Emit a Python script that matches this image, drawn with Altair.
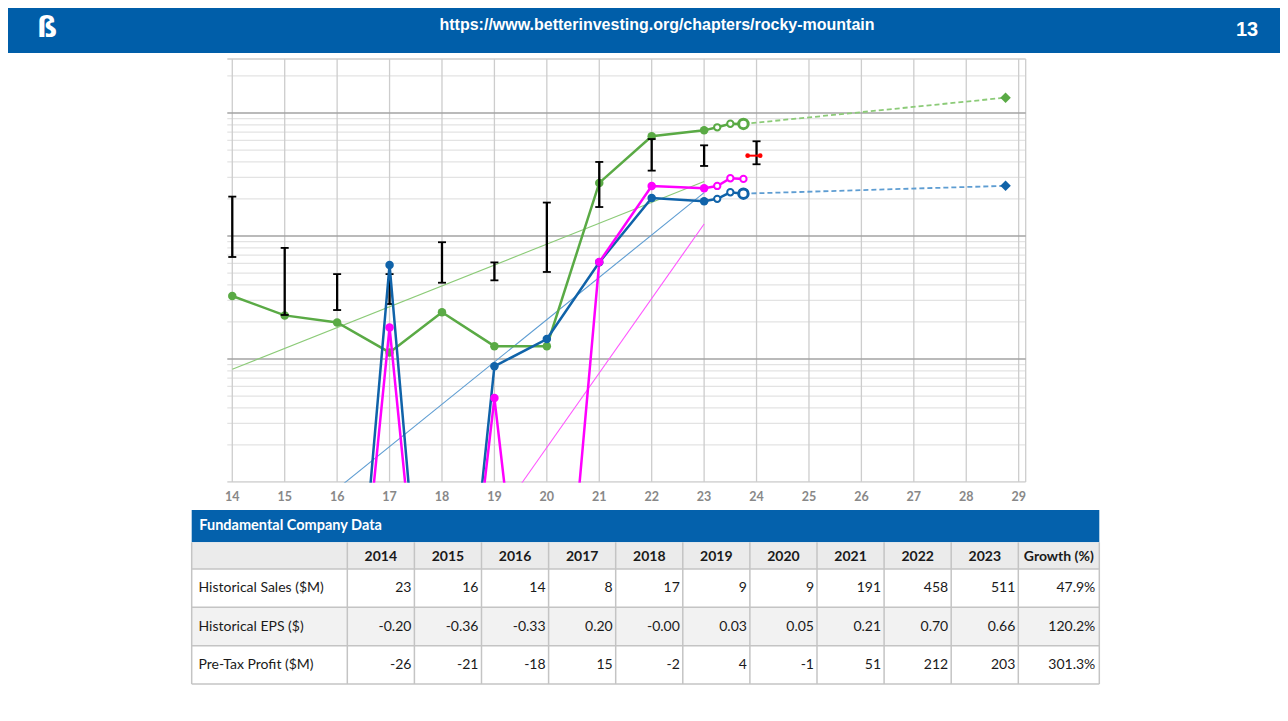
import altair as alt
import pandas as pd

# ---------------- data ----------------
YEARS = [2014, 2015, 2016, 2017, 2018, 2019, 2020, 2021, 2022, 2023]
YEAR_LABELS = ["2014", "2015", "2016", "2017", "2018", "2019", "2020", "2021", "2022", "2023"]
CHART_X = [14, 15, 16, 17, 18, 19, 20, 21, 22, 23]
SALES = [23, 16, 14, 8, 17, 9, 9, 191, 458, 511]
EPS = [-0.20, -0.36, -0.33, 0.20, -0.001, 0.03, 0.05, 0.21, 0.70, 0.66]
PRETAX = [-26, -21, -18, 15, -2, 4, -1, 51, 212, 203]
GROWTH = ["47.9%", "120.2%", "301.3%"]
ROW_NAMES = ["Historical Sales ($M)", "Historical EPS ($)", "Pre-Tax Profit ($M)"]
TABLE_TITLE = "Fundamental Company Data"
GROWTH_HEADER = "Growth (%)"

# trailing quarters, projections, trends
TTM_X = [23.25, 23.5, 23.75]
SALES_TTM = [541, 578, 576]
EPS_TTM = [0.69, 0.78, 0.76]
PRETAX_TTM = [212, 245, 242]
PROJ_X = [23.75, 28.75]
SALES_PROJ = [576, 942]
EPS_PROJ = [0.76, 0.88]
TREND_X = [14, 23]
SALES_TREND = [5.83, 196]
EPS_TREND = [0.00062, 0.774]
PRETAX_TREND = [0.00037, 104]

# yearly price ranges
PRICE_X = [14, 15, 16, 17, 18, 19, 20, 21, 22, 23, 24]
PRICE_HIGH = [20.9, 8.0, 4.9, 4.9, 8.9, 6.1, 18.7, 40.0, 61.4, 54.6, 58.9]
PRICE_LOW = [6.75, 2.28, 2.50, 2.80, 4.17, 4.36, 5.10, 17.2, 34.0, 37.1, 38.3]
CURRENT_X = [23.83, 24.07]
CURRENT_PRICE = 45.0

X_TICKS = [14, 15, 16, 17, 18, 19, 20, 21, 22, 23, 24, 25, 26, 27, 28, 29]
X_LABELS = [str(t) for t in X_TICKS]
GRID_MINOR = [0.2, 0.3, 0.4, 0.5, 0.6, 0.7, 0.8, 0.9, 2, 3, 4, 5, 6, 7, 8, 9,
              20, 30, 40, 50, 60, 70, 80, 90, 200]
GRID_MAJOR = [1, 10, 100]

URL = "https://www.betterinvesting.org/chapters/rocky-mountain"
PAGE_NO = "13"
LOGO = "ß"

# ---------------- layout / style ----------------
W, H = 1272, 705
PX0, PX1 = 13.905, 29.134
PY0, PY1 = 0.1, 274.8
PLOT_TOP, PLOT_BOTTOM = 51, 474
EPS_FLOOR = 2.5e-6
PRETAX_FLOOR = 8.5e-4

GREEN = "#5aaa45"
GREEN_L = "#8ccb78"
BLUE = "#1063a9"
BLUE_L = "#5e9dd2"
MAG = "#ff00ff"
MAG_L = "#ff55ff"
HEAD_BLUE = "#005ea9"
TAB_BLUE = "#0461ac"
LINE_GRAY = "#c4c4c4"

XS = alt.Scale(domain=[PX0, PX1], range=[219.3, 1017.7], nice=False, zero=False)


def logscale(lo, hi):
    return alt.Scale(type="log", domain=[lo, hi], range=[PLOT_BOTTOM, PLOT_TOP], nice=False)


Y_SALES = logscale(0.7075, 1943)
Y_EPS = logscale(0.00344, 9.454)
Y_PRETAX = logscale(0.831, 2283)
Y_PRICE = logscale(PY0, PY1)

COL_S = alt.Scale(type="band", domain=YEAR_LABELS, range=[339.3, 1010.3], paddingInner=0, paddingOuter=0)
ROW_S = alt.Scale(type="band", domain=ROW_NAMES, range=[561, 676], paddingInner=0, paddingOuter=0)

T_L, T_R = 183.7, 1091.3
T_TITLE0, T_TITLE1 = 502, 534.3
T_HEAD1 = 561
T_BOTTOM = 676
GROWTH_L = 1010.3


def xq(f="x"):
    return alt.X(f"{f}:Q", scale=XS, axis=None)


def yq(f, s):
    return alt.Y(f"{f}:Q", scale=s, axis=None)


layers = []

# ---------- grid ----------
layers.append(alt.Chart(pd.DataFrame({"y": GRID_MINOR, "x0": PX0, "x1": PX1}))
              .mark_rule(color="#e3e3e3", strokeWidth=1.3)
              .encode(y=yq("y", Y_PRICE), x=xq("x0"), x2="x1:Q"))
layers.append(alt.Chart(pd.DataFrame({"x": X_TICKS + [PX1], "y0": PY0, "y1": PY1}))
              .mark_rule(color="#cdcdcd", strokeWidth=1.3)
              .encode(x=xq("x"), y=yq("y0", Y_PRICE), y2="y1:Q"))
layers.append(alt.Chart(pd.DataFrame({"y": [PY0, PY1], "x0": PX0, "x1": PX1}))
              .mark_rule(color="#cdcdcd", strokeWidth=1.3)
              .encode(y=yq("y", Y_PRICE), x=xq("x0"), x2="x1:Q"))
layers.append(alt.Chart(pd.DataFrame({"y": GRID_MAJOR, "x0": PX0, "x1": PX1}))
              .mark_rule(color="#a3a3a3", strokeWidth=1.6)
              .encode(y=yq("y", Y_PRICE), x=xq("x0"), x2="x1:Q"))

# ---------- trend lines ----------
for vals, s, c in [(SALES_TREND, Y_SALES, GREEN_L), (EPS_TREND, Y_EPS, BLUE_L), (PRETAX_TREND, Y_PRETAX, MAG_L)]:
    layers.append(alt.Chart(pd.DataFrame({"x": TREND_X, "v": vals}))
                  .mark_line(color=c, strokeWidth=1.1, clip=True)
                  .encode(x=xq(), y=yq("v", s)))

# ---------- sales (green) ----------
layers.append(alt.Chart(pd.DataFrame({"x": PROJ_X, "v": SALES_PROJ}))
              .mark_line(color=GREEN_L, strokeWidth=1.8, strokeDash=[5, 3])
              .encode(x=xq(), y=yq("v", Y_SALES)))
layers.append(alt.Chart(pd.DataFrame({"x": CHART_X + TTM_X, "v": SALES + SALES_TTM}))
              .mark_line(color=GREEN, strokeWidth=2.5)
              .encode(x=xq(), y=yq("v", Y_SALES)))
layers.append(alt.Chart(pd.DataFrame({"x": CHART_X, "v": SALES}))
              .mark_circle(color=GREEN, size=72, opacity=1)
              .encode(x=xq(), y=yq("v", Y_SALES)))
layers.append(alt.Chart(pd.DataFrame({"x": TTM_X[:-1], "v": SALES_TTM[:-1]}))
              .mark_circle(fill="white", stroke=GREEN, strokeWidth=2, size=40, opacity=1)
              .encode(x=xq(), y=yq("v", Y_SALES)))
layers.append(alt.Chart(pd.DataFrame({"x": TTM_X[-1:], "v": SALES_TTM[-1:]}))
              .mark_circle(fill="white", stroke=GREEN, strokeWidth=3, size=90, opacity=1)
              .encode(x=xq(), y=yq("v", Y_SALES)))
layers.append(alt.Chart(pd.DataFrame({"x": PROJ_X[-1:], "v": SALES_PROJ[-1:]}))
              .mark_point(shape="diamond", filled=True, color=GREEN, size=110, opacity=1)
              .encode(x=xq(), y=yq("v", Y_SALES)))

# ---------- price bars ----------
price_df = pd.DataFrame({"x": PRICE_X, "hi": PRICE_HIGH, "lo": PRICE_LOW})
layers.append(alt.Chart(price_df).mark_rule(color="black", strokeWidth=2.3)
              .encode(x=xq(), y=yq("lo", Y_PRICE), y2="hi:Q"))
for f in ["hi", "lo"]:
    layers.append(alt.Chart(price_df).mark_tick(color="black", orient="horizontal", size=8,
                                                thickness=1.8, opacity=1)
                  .encode(x=xq(), y=yq(f, Y_PRICE)))
cur_df = pd.DataFrame({"x": CURRENT_X, "v": CURRENT_PRICE})
layers.append(alt.Chart(cur_df).mark_line(color="red", strokeWidth=2)
              .encode(x=xq(), y=yq("v", Y_PRICE)))
layers.append(alt.Chart(cur_df).mark_circle(color="red", size=22, opacity=1)
              .encode(x=xq(), y=yq("v", Y_PRICE)))

# ---------- EPS (blue) ----------
layers.append(alt.Chart(pd.DataFrame({"x": PROJ_X, "v": EPS_PROJ}))
              .mark_line(color=BLUE_L, strokeWidth=1.8, strokeDash=[5, 3])
              .encode(x=xq(), y=yq("v", Y_EPS)))
layers.append(alt.Chart(pd.DataFrame({"x": CHART_X + TTM_X, "v": EPS + EPS_TTM}))
              .transform_calculate(pv=f"datum.v > 0 ? datum.v : {EPS_FLOOR}")
              .mark_line(color=BLUE, strokeWidth=2.5, clip=True)
              .encode(x=xq(), y=yq("pv", Y_EPS)))

# ---------- pre-tax profit (magenta) ----------
layers.append(alt.Chart(pd.DataFrame({"x": CHART_X + TTM_X, "v": PRETAX + PRETAX_TTM}))
              .transform_calculate(pv=f"datum.v > 0 ? datum.v : {PRETAX_FLOOR}")
              .mark_line(color=MAG, strokeWidth=2.5, clip=True)
              .encode(x=xq(), y=yq("pv", Y_PRETAX)))

for vals, ttm, s, c in [(EPS, EPS_TTM, Y_EPS, BLUE), (PRETAX, PRETAX_TTM, Y_PRETAX, MAG)]:
    layers.append(alt.Chart(pd.DataFrame({"x": CHART_X, "v": vals}))
                  .transform_filter("datum.v > 0")
                  .mark_circle(color=c, size=72, opacity=1)
                  .encode(x=xq(), y=yq("v", s)))
    n = 2 if c == BLUE else 3
    layers.append(alt.Chart(pd.DataFrame({"x": TTM_X[:n], "v": ttm[:n]}))
                  .mark_circle(fill="white", stroke=c, strokeWidth=2, size=40, opacity=1)
                  .encode(x=xq(), y=yq("v", s)))

layers.append(alt.Chart(pd.DataFrame({"x": TTM_X[-1:], "v": EPS_TTM[-1:]}))
              .mark_circle(fill="white", stroke=BLUE, strokeWidth=3, size=90, opacity=1)
              .encode(x=xq(), y=yq("v", Y_EPS)))
layers.append(alt.Chart(pd.DataFrame({"x": PROJ_X[-1:], "v": EPS_PROJ[-1:]}))
              .mark_point(shape="diamond", filled=True, color=BLUE, size=110, opacity=1)
              .encode(x=xq(), y=yq("v", Y_EPS)))

# ---------- mask below the plot area ----------
layers.append(alt.Chart(pd.DataFrame({"a": [0]})).mark_rect(color="white")
              .encode(x=alt.value(205), x2=alt.value(1030), y=alt.value(PLOT_BOTTOM + 0.8), y2=alt.value(H)))

# ---------- x labels ----------
layers.append(alt.Chart(pd.DataFrame({"x": X_TICKS, "t": X_LABELS}))
              .mark_text(font="Lato", fontWeight="bold", fontSize=12.5, color="#888888", baseline="middle")
              .encode(x=xq(), y=alt.value(489), text="t:N"))

# ---------- table ----------
one = pd.DataFrame({"a": [0]})
layers.append(alt.Chart(one).mark_rect(color=TAB_BLUE)
              .encode(x=alt.value(T_L), x2=alt.value(T_R), y=alt.value(T_TITLE0), y2=alt.value(T_TITLE1)))
layers.append(alt.Chart(one).mark_rect(color="#ebebeb")
              .encode(x=alt.value(T_L), x2=alt.value(T_R), y=alt.value(T_TITLE1), y2=alt.value(T_HEAD1)))
rows_df = pd.DataFrame({"row": ROW_NAMES, "g": GROWTH})
layers.append(alt.Chart(rows_df).mark_rect()
              .encode(y=alt.Y("row:N", scale=ROW_S, axis=None),
                      x=alt.value(T_L), x2=alt.value(T_R),
                      color=alt.condition(f"datum.row === '{ROW_NAMES[1]}'",
                                          alt.value("#f2f2f2"), alt.value("#ffffff"))))
# grid lines of the table
layers.append(alt.Chart(rows_df).mark_rule(color=LINE_GRAY, strokeWidth=1.5)
              .encode(y=alt.Y("row:N", scale=ROW_S, axis=None, bandPosition=0),
                      x=alt.value(T_L), x2=alt.value(T_R)))
layers.append(alt.Chart(one).mark_rule(color=LINE_GRAY, strokeWidth=1.5)
              .encode(y=alt.value(T_BOTTOM), x=alt.value(T_L), x2=alt.value(T_R)))
cols_df = pd.DataFrame({"col": YEAR_LABELS})
layers.append(alt.Chart(cols_df).mark_rule(color=LINE_GRAY, strokeWidth=1.5)
              .encode(x=alt.X("col:N", scale=COL_S, axis=None, bandPosition=0),
                      y=alt.value(T_TITLE1), y2=alt.value(T_BOTTOM)))
for xv in [T_L, GROWTH_L, T_R]:
    layers.append(alt.Chart(one).mark_rule(color=LINE_GRAY, strokeWidth=1.5)
                  .encode(x=alt.value(xv), y=alt.value(T_TITLE1), y2=alt.value(T_BOTTOM)))

# table texts
layers.append(alt.Chart(pd.DataFrame({"t": [TABLE_TITLE]}))
              .mark_text(font="Lato", fontWeight="bold", fontSize=14.5, color="white", align="left", baseline="middle")
              .encode(x=alt.value(191.3), y=alt.value(518), text="t:N"))
layers.append(alt.Chart(cols_df)
              .mark_text(font="Lato", fontWeight="bold", fontSize=14, color="#1a1a1a", baseline="middle")
              .encode(x=alt.X("col:N", scale=COL_S, axis=None, bandPosition=0.5),
                      y=alt.value(548.5), text="col:N"))
layers.append(alt.Chart(pd.DataFrame({"t": [GROWTH_HEADER]}))
              .mark_text(font="Lato", fontWeight="bold", fontSize=14, color="#1a1a1a", baseline="middle")
              .encode(x=alt.value((GROWTH_L + T_R) / 2), y=alt.value(548.5), text="t:N"))

cells = []
for name, vals, fmt in [(ROW_NAMES[0], SALES, lambda v: f"{v:d}"),
                        (ROW_NAMES[1], EPS, lambda v: f"{v:.2f}"),
                        (ROW_NAMES[2], PRETAX, lambda v: f"{v:d}")]:
    for lab, v in zip(YEAR_LABELS, vals):
        cells.append({"row": name, "col": lab, "t": fmt(v)})
cells_df = pd.DataFrame(cells)
layers.append(alt.Chart(cells_df)
              .mark_text(font="Lato", fontSize=14, color="#1a1a1a", align="right", baseline="middle", dx=-3)
              .encode(x=alt.X("col:N", scale=COL_S, axis=None, bandPosition=1),
                      y=alt.Y("row:N", scale=ROW_S, axis=None, bandPosition=0.5), text="t:N"))
layers.append(alt.Chart(rows_df)
              .mark_text(font="Lato", fontSize=14, color="#1a1a1a", align="left", baseline="middle")
              .encode(x=alt.value(190.5), y=alt.Y("row:N", scale=ROW_S, axis=None, bandPosition=0.5), text="row:N"))
layers.append(alt.Chart(rows_df)
              .mark_text(font="Lato", fontSize=14, color="#1a1a1a", align="right", baseline="middle")
              .encode(x=alt.value(T_R - 4), y=alt.Y("row:N", scale=ROW_S, axis=None, bandPosition=0.5), text="g:N"))

# ---------- slide header ----------
layers.append(alt.Chart(one).mark_rect(color=HEAD_BLUE)
              .encode(x=alt.value(0), x2=alt.value(W), y=alt.value(0), y2=alt.value(45)))
layers.append(alt.Chart(pd.DataFrame({"t": [URL]}))
              .mark_text(font="Liberation Sans", fontWeight="bold", fontSize=16, color="white", baseline="middle")
              .encode(x=alt.value(649), y=alt.value(17), text="t:N"))
layers.append(alt.Chart(pd.DataFrame({"t": [PAGE_NO]}))
              .mark_text(font="Liberation Sans", fontWeight="bold", fontSize=20, color="white", baseline="middle")
              .encode(x=alt.value(1239), y=alt.value(22), text="t:N"))
layers.append(alt.Chart(pd.DataFrame({"t": [LOGO]}))
              .mark_text(font="DejaVu Sans", fontWeight="bold", fontSize=28, color="white", baseline="middle")
              .encode(x=alt.value(39), y=alt.value(21), text="t:N"))

chart = (alt.layer(*layers)
         .resolve_scale(x="independent", y="independent", color="independent")
         .properties(width=W, height=H, padding=0, background="white")
         .configure_view(strokeWidth=0))

chart.save("out.html", embed_options={"renderer": "svg", "actions": False})
